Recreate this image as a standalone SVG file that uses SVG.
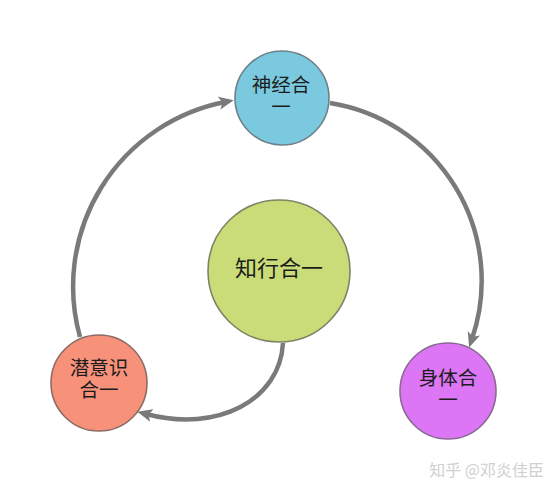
<svg xmlns="http://www.w3.org/2000/svg" width="559" height="493" viewBox="0 0 559 493">
<defs>
<style>
.node circle{stroke-width:1.6}
.lbl{font-family:"Liberation Sans","Noto Sans CJK SC",sans-serif;fill:#1c1c1c;text-anchor:middle;font-size:19.5px}
.conn path{fill:none;stroke:#7a7a7a;stroke-width:4.5;stroke-linecap:butt}
.wm{font-family:"Noto Sans CJK SC","Noto Sans",sans-serif;font-size:16px;fill:#d0d0d0;text-anchor:end}
</style>
<marker id="arr" markerUnits="userSpaceOnUse" markerWidth="16" markerHeight="14" viewBox="0 0 16 14" refX="6" refY="7" orient="auto">
<path d="M0,0.5 L15,7 L0,13.5 L3.5,7 Z" fill="#7a7a7a"/>
</marker>
</defs>
<rect width="559" height="493" fill="#ffffff"/>
<g id="connectors" class="conn">
<path d="M330,103 A180,180 0 0 1 472,339" marker-end="url(#arr)"/>
<path d="M80,337 A188,188 0 0 1 225,102" marker-end="url(#arr)"/>
<path d="M283,343 C280,400 218,433 146,414" marker-end="url(#arr)"/>
</g>
<g id="node-neural" class="node">
<circle cx="282" cy="98" r="47" fill="#7ac9df" stroke="#6e8088"/>
<text class="lbl" x="281" y="92">神经合</text>
<text class="lbl" x="281" y="114">一</text>
</g>
<g id="node-center" class="node">
<circle cx="279" cy="271" r="71" fill="#c9dc78" stroke="#7d8466"/>
<text class="lbl" x="279" y="276" style="font-size:22px">知行合一</text>
</g>
<g id="node-subconscious" class="node">
<circle cx="99" cy="383" r="48" fill="#f7917a" stroke="#8c6c64"/>
<text class="lbl" x="99" y="375">潜意识</text>
<text class="lbl" x="99" y="397">合一</text>
</g>
<g id="node-body" class="node">
<circle cx="448" cy="391" r="48" fill="#dd76f5" stroke="#8a6a92"/>
<text class="lbl" x="448" y="385">身体合</text>
<text class="lbl" x="448" y="407">一</text>
</g>
<text class="wm" x="544" y="476">知乎 @邓炎佳臣</text>
</svg>
